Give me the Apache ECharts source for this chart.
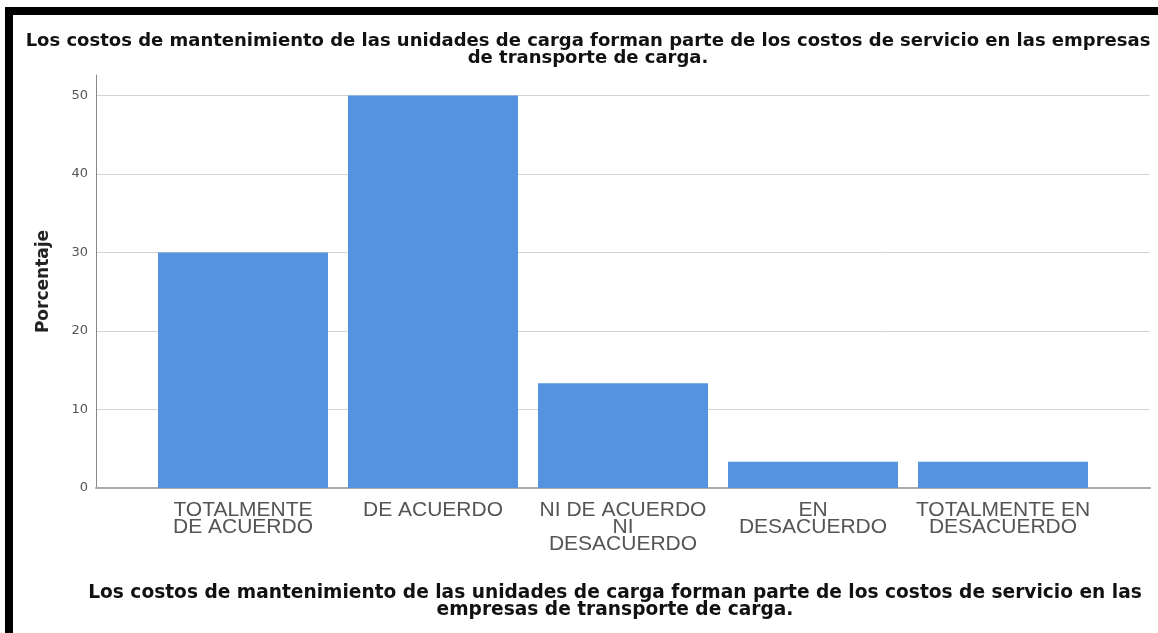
<!DOCTYPE html>
<html>
<head>
<meta charset="utf-8">
<script src="https://cdn.jsdelivr.net/npm/echarts@6/dist/echarts.min.js"></script>
<style>
    html, body { margin: 0; padding: 0; background: #fff; }
    #myBarChart { width: 1158px; height: 633px; }
</style>
</head>
<body>
<div id="myBarChart"></div>
<script>
// datos (porcentaje)
const categorias = ['TOTALMENTE\nDE ACUERDO', 'DE ACUERDO', 'NI DE ACUERDO\nNI\nDESACUERDO', 'EN\nDESACUERDO', 'TOTALMENTE EN\nDESACUERDO']
const porcentajes = [30, 50, 13.33, 3.33, 3.33]
const ticksY = [0, 10, 20, 30, 40, 50]
const titulo = 'Los costos de mantenimiento de las unidades de carga forman parte de los costos de servicio en las empresas\nde transporte de carga.'
const tituloEje = 'Los costos de mantenimiento de las unidades de carga forman parte de los costos de servicio en las\nempresas de transporte de carga.'

const yMax = 52.6
const colorBarra = '#5592e0'

let myChart = echarts.init(document.getElementById('myBarChart'));
myChart.setOption({
    animation: false,
    backgroundColor: '#fff',
    title: [
        {
            text: titulo,
            left: 583,
            top: 28,
            textAlign: 'center',
            textStyle: {
                fontFamily: 'DejaVu Sans',
                fontWeight: 'bold',
                fontSize: 18,
                lineHeight: 17,
                color: '#111'
            }
        },
        {
            text: tituloEje,
            left: 610,
            top: 580,
            textAlign: 'center',
            textStyle: {
                fontFamily: 'DejaVu Sans',
                fontWeight: 'bold',
                fontSize: 18.6,
                lineHeight: 17,
                color: '#111'
            }
        }
    ],
    // marco negro (arriba e izquierda)
    graphic: [
        { type: 'rect', shape: { x: 5, y: 7, width: 1153, height: 8 }, style: { fill: '#000' } },
        { type: 'rect', shape: { x: 5, y: 7, width: 8, height: 626 }, style: { fill: '#000' } }
    ],
    grid: [
        // marco de ejes y lineas de referencia
        { left: 96, right: 8, top: 75, bottom: 145 },
        // barras
        { left: 148, right: 60, top: 75, bottom: 145 }
    ],
    xAxis: [
        {
            gridIndex: 0,
            type: 'value',
            min: 0,
            max: 1,
            axisLine: { show: true, onZero: false, lineStyle: { color: '#aaa', width: 2 } },
            axisTick: { show: false },
            axisLabel: { show: false },
            splitLine: { show: false }
        },
        {
            gridIndex: 1,
            type: 'category',
            data: categorias,
            axisLine: { show: false },
            axisTick: { show: false },
            axisLabel: {
                interval: 0,
                margin: 14,
                fontFamily: 'Liberation Sans',
                fontSize: 21,
                lineHeight: 17,
                color: '#555'
            }
        }
    ],
    yAxis: [
        {
            gridIndex: 0,
            type: 'value',
            min: 0,
            max: yMax,
            interval: 10,
            name: 'Porcentaje',
            nameLocation: 'middle',
            nameGap: 44,
            nameTextStyle: {
                fontFamily: 'DejaVu Sans',
                fontWeight: 'bold',
                fontSize: 17,
                color: '#222'
            },
            axisLine: { show: true, lineStyle: { color: '#888', width: 1 } },
            axisTick: { show: false },
            axisLabel: {
                margin: 8,
                fontFamily: 'DejaVu Sans',
                fontSize: 13,
                color: '#555',
                showMaxLabel: false,
                formatter: (v) => ticksY.includes(v) ? String(v) : ''
            },
            splitLine: {
                show: true,
                showMinLine: false,
                showMaxLine: false,
                lineStyle: { color: '#d4d4d4', width: 1 }
            }
        },
        {
            gridIndex: 1,
            type: 'value',
            min: 0,
            max: yMax,
            show: false
        }
    ],
    series: [
        {
            type: 'bar',
            xAxisIndex: 1,
            yAxisIndex: 1,
            barWidth: 170,
            data: porcentajes,
            itemStyle: { color: colorBarra }
        }
    ]
});
</script>
</body>
</html>
